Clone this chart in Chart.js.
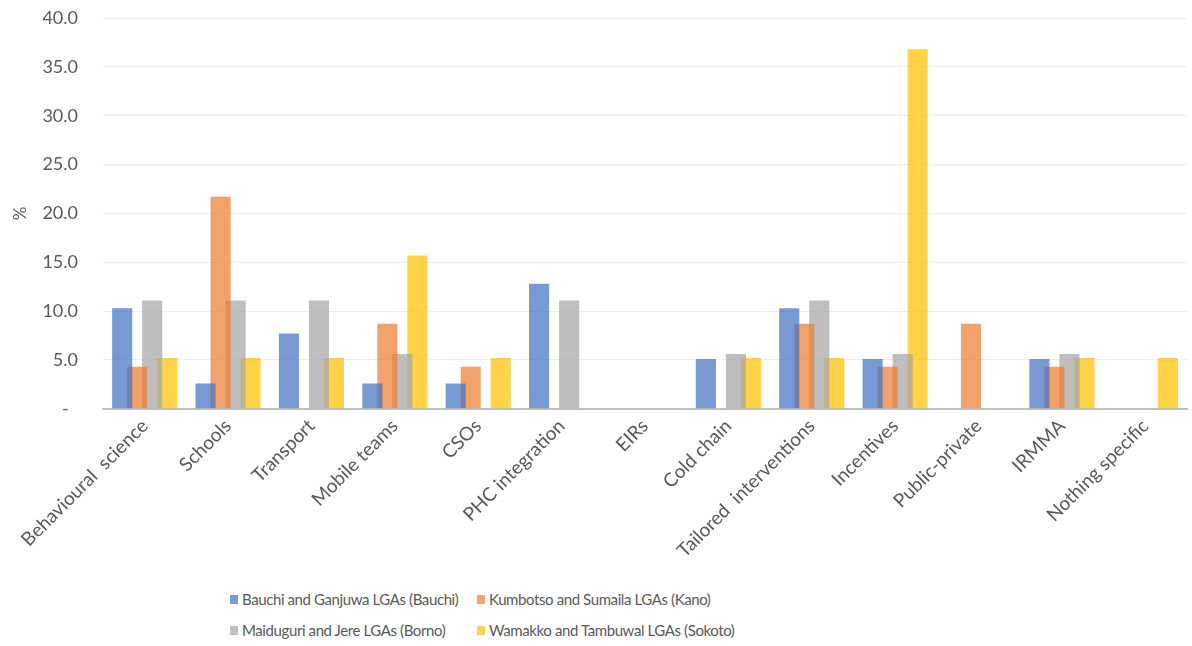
<!DOCTYPE html>
<html>
<head>
<meta charset="utf-8">
<script src="https://cdn.jsdelivr.net/npm/chart.js@4.4.1/dist/chart.umd.min.js"></script>
<style>
  html, body { margin: 0; padding: 0; background: #fff; }
  body { width: 1192px; height: 646px; overflow: hidden; font-family: 'Lato', sans-serif; }
  #wrap { position: relative; width: 1192px; height: 568px; }
  #legend { display: grid; grid-template-columns: 247px 330px; row-gap: 13px; margin-left: 230px; margin-top: 22px; }
  .lg-item { display: flex; align-items: center; font-size: 15px; letter-spacing: -0.4px; color: #595959; white-space: nowrap; }
  .lg-box { flex: 0 0 auto; width: 8px; height: 9px; margin-right: 4px; }
</style>
</head>
<body>
<div id="wrap"><canvas id="chart"></canvas></div>
<div id="legend"></div>
<script>
// Categories and series (values in %)
const categories = ['Behavioural  science', 'Schools', 'Transport', 'Mobile teams', 'CSOs', 'PHC integration', 'EIRs',
  'Cold chain', 'Tailored  interventions', 'Incentives', 'Public-private', 'IRMMA', 'Nothing specific'];

const seriesNames = ['Bauchi and Ganjuwa LGAs (Bauchi)', 'Kumbotso and Sumaila LGAs (Kano)',
  'Maiduguri and Jere LGAs (Borno)', 'Wamakko and Tambuwal LGAs (Sokoto)'];

const bauchi  = [10.3, 2.6, 7.7, 2.6, 2.6, 12.8, 0, 5.1, 10.3, 5.1, 0, 5.1, 0];
const kano    = [4.3, 21.7, 0, 8.7, 4.3, 0, 0, 0, 8.7, 4.3, 8.7, 4.3, 0];
const borno   = [11.1, 11.1, 11.1, 5.6, 0, 11.1, 0, 5.6, 11.1, 5.6, 0, 5.6, 0];
const sokoto  = [5.2, 5.2, 5.2, 15.7, 5.2, 0, 0, 5.2, 5.2, 36.8, 0, 5.2, 5.2];

const yTicks = [0, 5, 10, 15, 20, 25, 30, 35, 40];

const colors = ['rgba(68,114,196,0.72)', 'rgba(237,125,49,0.72)', 'rgba(165,165,165,0.72)', 'rgba(255,192,0,0.72)'];
const legendColors = ['#7A9BD6', '#EFA46F', '#C0C0C0', '#FFD24A'];

const seriesData = [bauchi, kano, borno, sokoto];

const ctx = document.getElementById('chart').getContext('2d');
new Chart(ctx, {
  type: 'bar',
  data: {
    labels: categories,
    datasets: seriesData.map((d, i) => ({
      label: seriesNames[i],
      data: d,
      backgroundColor: colors[i],
      borderWidth: 0,
      categoryPercentage: 0.72,
      barPercentage: 1.34
    }))
  },
  options: {
    responsive: true,
    maintainAspectRatio: false,
    animation: false,
    layout: { padding: { left: 6, right: 5, top: 18, bottom: 0 } },
    plugins: {
      legend: { display: false },
      tooltip: { enabled: false }
    },
    scales: {
      x: {
        grid: { display: false, drawTicks: false },
        border: { color: '#BFBFBF', width: 2 },
        afterFit: s => { s.paddingLeft = 0; },
        ticks: {
          color: '#595959',
          font: { family: 'Lato', size: 19 },
          minRotation: 45,
          maxRotation: 45,
          autoSkip: false,
          padding: 6
        }
      },
      y: {
        min: 0,
        max: 40,
        afterBuildTicks: axis => { axis.ticks = yTicks.map(v => ({ value: v })); },
        afterFit: s => { s.paddingTop = 0; s.width = 97; },
        grid: { color: '#EEEEEE', drawTicks: false },
        border: { display: false },
        ticks: {
          color: '#595959',
          font: { family: 'Lato', size: 18 },
          padding: 25,
          callback: v => v === 0 ? '-  ' : v.toFixed(1)
        },
        title: {
          display: true,
          text: '%',
          color: '#595959',
          font: { family: 'Lato', size: 17 },
          padding: { bottom: 10 }
        }
      }
    }
  }
});

// Legend in two columns like the original
const legend = document.getElementById('legend');
seriesNames.forEach((name, i) => {
  const item = document.createElement('div');
  item.className = 'lg-item';
  item.innerHTML = `<span class="lg-box" style="background:${legendColors[i]}"></span>${name}`;
  legend.appendChild(item);
});
</script>
</body>
</html>
